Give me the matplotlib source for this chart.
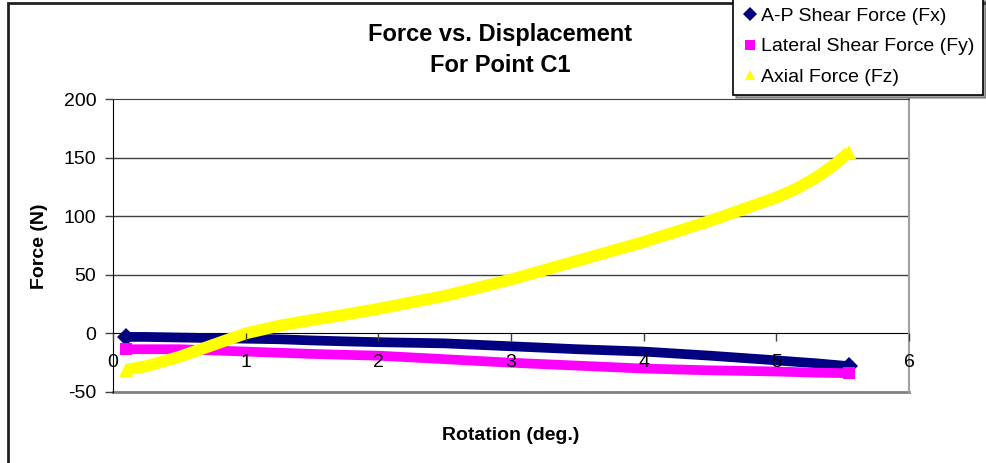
import numpy as np
import matplotlib
matplotlib.use("Agg")
import matplotlib.pyplot as plt
from matplotlib.patches import Rectangle

rotation = [0.1, 0.25, 0.5, 0.75, 1.0, 1.25, 1.5, 1.75, 2.0, 2.5, 3.0, 3.5, 4.0, 4.5, 4.75, 5.0, 5.15, 5.3, 5.45, 5.55]
fx = [-3, -3, -3.5, -4, -4.5, -5, -6, -6.8, -7.5, -8.5, -11, -13.5, -15.5, -19, -21, -23, -24.3, -25.5, -27, -28]
fy = [-13.5, -13.5, -13.5, -14.5, -15.5, -16.5, -17.5, -18.3, -19, -22, -25, -27.5, -30, -31.5, -32, -32.5, -33, -33.5, -33.8, -34]
fz = [-31, -28, -20, -10, 0, 6.5, 11.5, 16, 21, 32, 46, 62, 78, 96, 106, 116, 123.5, 133, 145, 155]

series_names = ['A-P Shear Force (Fx)', 'Lateral Shear Force (Fy)', 'Axial Force (Fz)']
x_ticks = [0, 1, 2, 3, 4, 5, 6]
y_ticks = [-50, 0, 50, 100, 150, 200]


def main():
    plt.rcParams['font.family'] = ['Liberation Sans', 'DejaVu Sans']
    plt.rcParams['axes.unicode_minus'] = False
    W, H = 987, 463
    fig = plt.figure(figsize=(W / 100, H / 100), dpi=100)
    ax = fig.add_axes([113 / W, 1 - 392 / H, (909 - 113) / W, (392 - 99) / H])

    styles = [('#000080', 'D', 7.0), ('#FF00FF', 's', 7.0), ('#FFFF00', '^', 8.5)]
    handles = []
    for vals, name, (col, mk, lw) in zip([fx, fy, fz], series_names, styles):
        ax.plot(rotation, vals, color=col, linewidth=lw, solid_capstyle='butt',
                solid_joinstyle='round', zorder=2)
        ax.plot(rotation, vals, linestyle='none', marker=mk, markersize=lw + 2,
                markevery=[0, len(vals) - 1], color=col, markeredgewidth=0, zorder=2)
        h, = ax.plot([], [], linestyle='none', marker=mk, markersize=7, color=col,
                     markeredgewidth=0, label=name)
        handles.append(h)

    ax.set_xlim(0, 6)
    ax.set_ylim(-50, 200)
    ax.set_xticks(x_ticks)
    ax.set_yticks(y_ticks)
    ax.tick_params(axis='both', labelsize=14, direction='out', length=6, width=1, color='#404040')
    ax.tick_params(axis='x', pad=9)
    ax.tick_params(axis='y', pad=6)
    ax.xaxis.set_zorder(2.5)

    for v in y_ticks[2:-1]:
        ax.axhline(v, color='#404040', linewidth=1, zorder=1)
    ax.axhline(-50, color='#808080', linewidth=2, zorder=1, clip_on=False)

    ax.spines['bottom'].set_position(('data', 0))
    ax.spines['bottom'].set_color('black')
    ax.spines['bottom'].set_zorder(1.5)
    ax.spines['left'].set_color('black')
    ax.spines['right'].set_color('#a0a0a0')
    ax.spines['right'].set_linewidth(1.5)
    ax.spines['top'].set_color('#404040')

    fig.text(500 / W, 1 - 35 / H, 'Force vs. Displacement', ha='center', va='center',
             fontsize=17, fontweight='bold')
    fig.text(500 / W, 1 - 65 / H, 'For Point C1', ha='center', va='center',
             fontsize=17, fontweight='bold')
    fig.text(511 / W, 1 - 435 / H, 'Rotation (deg.)', ha='center', va='center',
             fontsize=14, fontweight='bold')
    fig.text(40 / W, 1 - 246 / H, 'Force (N)', ha='center', va='center',
             fontsize=14, fontweight='bold', rotation=90)

    fig.patches.append(Rectangle((8 / W, -0.05), 1.1, 1 - 2.5 / H + 0.05,
                                 transform=fig.transFigure, fill=False,
                                 edgecolor='#202020', linewidth=2))

    leg = fig.legend(handles=handles, loc='upper left', bbox_to_anchor=(733 / W, 1.004),
                     fontsize=14, frameon=True, fancybox=False, shadow=True,
                     edgecolor='black', borderpad=0.45, labelspacing=0.68,
                     handlelength=0.8, handletextpad=0.2, borderaxespad=0)
    leg.get_frame().set_linewidth(1.2)

    plt.savefig('out.png', dpi=100)


if __name__ == '__main__':
    main()
